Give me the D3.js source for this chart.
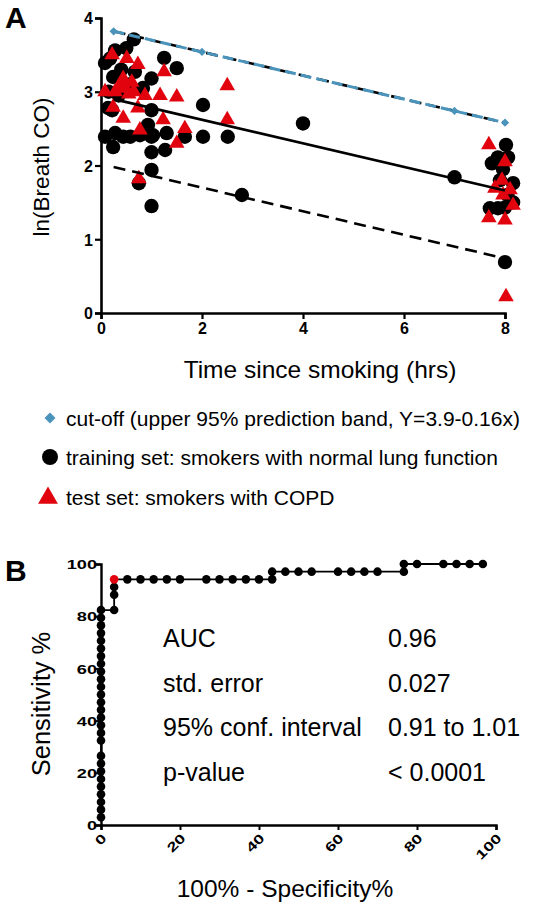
<!DOCTYPE html>
<html><head><meta charset="utf-8">
<script src="https://cdn.jsdelivr.net/npm/d3@7"></script>
<style>body{margin:0;background:#fff}svg{display:block}text{font-family:"Liberation Sans",Arial,sans-serif}</style>
</head><body>
<script>
// ---------- Panel A data ----------
const xTicksA = [0, 2, 4, 6, 8];
const yTicksA = [0, 1, 2, 3, 4];
const cutoffX = [0.25, 2, 7, 8];
const cutoffY = [3.82, 3.54, 2.74, 2.58];
const regX = [0.25, 8];
const regY = [2.90, 1.66];
const lowerY = [1.98, 0.74];
const upperY = [3.82, 2.58];
const trainX = [0.65,1.25,1.5,0.28,0.5,0.08,0.24,0.67,1.0,0.83,2.02,2.51,2.02,1.66,1.27,1.0,1.0,0.75,0.08,0.24,0.44,1.0,0.77,0.22,1.0,2.79,1.0,4.0,0.28,0.58,0.93,1.03,1.3,0.14,0.18,0.4,7.0,0.35,0.55,0.15,
  8.02,7.74,7.86,8.06,7.9,8.16,7.7,7.86,8.0,8.16,8.0,7.96,8.05];
const trainY = [3.71,3.46,3.32,3.56,3.59,3.39,3.2,3.27,3.18,3.05,2.82,2.39,2.39,2.39,2.21,2.18,1.94,1.76,2.39,2.25,2.39,2.39,2.41,2.75,2.75,1.6,1.45,2.57,2.44,2.39,2.55,2.41,2.44,2.78,3.45,3.3,1.84,2.95,3.1,3.0,
  2.28,2.03,2.11,2.11,1.8,1.76,1.42,1.42,1.43,1.5,0.69,1.95,1.6];
const testX = [0.22,0.51,0.73,1.25,0.44,0.08,0.48,0.61,1.17,1.5,0.28,0.87,2.5,2.5,1.66,1.23,0.77,0.44,0.24,0.73,1.5,0.75,0.35,0.55,0.65,0.4,
  7.68,8.0,7.94,7.8,8.1,7.96,8.16,7.68,8.0,8.02];
const testY = [3.5,3.45,3.37,3.27,3.18,3.0,3.05,3.13,2.95,2.93,3.0,2.95,3.08,2.62,2.5,2.62,2.48,2.64,2.79,2.78,2.3,1.82,3.05,2.97,3.0,3.1,
  2.28,2.05,1.8,1.69,1.67,1.6,1.46,1.29,1.26,0.22];
const legendLabels = ["cut-off (upper 95% prediction band, Y=3.9-0.16x)",
  "training set: smokers with normal lung function",
  "test set: smokers with COPD"];

// ---------- Panel B data ----------
const ticksB = [0, 20, 40, 60, 80, 100];
const rocX = [0,0,0,0,0,0,0,0,0,0,0,0,0,0,0,0,0,0,0,0,0,0,0,0,0,0,0,
  3.33,3.33,3.33,3.33,6.67,10,13.33,16.67,20,26.67,30,33.33,36.67,40,43.33,43.33,
  46.67,50,53.33,60,63.33,66.67,70,76.67,76.67,80,86.67,90,93.33,96.67];
const rocY = [2.94,5.88,8.82,11.76,14.71,17.65,20.59,23.53,26.47,32.35,35.29,38.24,41.18,44.12,47.06,50,52.94,55.88,58.82,61.76,64.71,67.65,70.59,73.53,76.47,79.41,82.35,
  82.35,88.24,91.18,94.12,94.12,94.12,94.12,94.12,94.12,94.12,94.12,94.12,94.12,94.12,94.12,97.06,
  97.06,97.06,97.06,97.06,97.06,97.06,97.06,97.06,100,100,100,100,100,100];
const cutPointIndex = 30;
const statLabels = ["AUC", "std. error", "95% conf. interval", "p-value"];
const statValues = ["0.96", "0.027", "0.91 to 1.01", "< 0.0001"];

const BLUE = "#4a93bb", RED = "#e1040f";

const svg = d3.select("body").append("svg").attr("width", 554).attr("height", 915);

// ======== Panel A ========
const xA = d3.scaleLinear().domain([0, 8]).range([101, 505]);
const yA = d3.scaleLinear().domain([0, 4]).range([313, 18]);

const gx = svg.append("g").attr("transform", "translate(0,313)")
  .call(d3.axisBottom(xA).tickValues(xTicksA).tickSize(6).tickPadding(4).tickFormat(d3.format("d")));
const gy = svg.append("g").attr("transform", "translate(101,0)")
  .call(d3.axisLeft(yA).tickValues(yTicksA).tickSize(6).tickPadding(2).tickFormat(d3.format("d")));
[gx, gy].forEach(g => {
  g.select(".domain").attr("stroke", "#000").attr("stroke-width", 2.6);
  g.selectAll(".tick line").attr("stroke", "#000").attr("stroke-width", 2.2);
  g.selectAll(".tick text").attr("font-size", 16).attr("font-weight", "bold").attr("fill", "#000");
});
gy.selectAll(".tick text").attr("dy", "0.36em");

// points
const pts = svg.append("g");
pts.selectAll("circle.train").data(trainX.map((x, i) => [x, trainY[i]])).enter()
  .append("circle").attr("cx", d => xA(d[0])).attr("cy", d => yA(d[1])).attr("r", 7.2).attr("fill", "#000");
const tri = d3.symbol().type(d3.symbolTriangle).size(105);
pts.selectAll("path.test").data(testX.map((x, i) => [x, testY[i]])).enter()
  .append("path").attr("d", tri).attr("transform", d => `translate(${xA(d[0])},${yA(d[1])})`).attr("fill", RED);

// lines
const lineA = d3.line().x(d => xA(d[0])).y(d => yA(d[1]));
svg.append("path").attr("d", lineA(regX.map((x, i) => [x, upperY[i]])))
  .attr("fill", "none").attr("stroke", "#000").attr("stroke-width", 2.6).attr("stroke-dasharray", "12,7");
svg.append("path").attr("d", lineA(regX.map((x, i) => [x, lowerY[i]])))
  .attr("fill", "none").attr("stroke", "#000").attr("stroke-width", 2.6).attr("stroke-dasharray", "12,7");
svg.append("path").attr("d", lineA(regX.map((x, i) => [x, regY[i]])))
  .attr("fill", "none").attr("stroke", "#000").attr("stroke-width", 2.6);
svg.append("path").attr("d", lineA(cutoffX.map((x, i) => [x, cutoffY[i]])))
  .attr("fill", "none").attr("stroke", BLUE).attr("stroke-width", 3).attr("stroke-dasharray", "11,5");
const dia = d3.symbol().type(d3.symbolSquare).size(34);
svg.selectAll("path.cut").data(cutoffX.map((x, i) => [x, cutoffY[i]])).enter()
  .append("path").attr("d", dia).attr("transform", d => `translate(${xA(d[0])},${yA(d[1])}) rotate(45)`).attr("fill", BLUE);

// titles
svg.append("text").attr("x", 5).attr("y", 28).attr("font-size", 30).attr("font-weight", "bold").text("A");
svg.append("text").attr("transform", "translate(49,167) rotate(-90)").attr("text-anchor", "middle")
  .attr("font-size", 22.5).text("ln(Breath CO)");
svg.append("text").attr("x", 320).attr("y", 378).attr("text-anchor", "middle").attr("font-size", 24.5)
  .text("Time since smoking (hrs)");

// legend
const lg = svg.append("g");
const legY = [418, 457, 497];
lg.append("path").attr("d", d3.symbol().type(d3.symbolSquare).size(60)).attr("transform", `translate(50,${legY[0]}) rotate(45)`).attr("fill", BLUE);
lg.append("circle").attr("cx", 50).attr("cy", legY[1]).attr("r", 8).attr("fill", "#000");
lg.append("path").attr("d", d3.symbol().type(d3.symbolTriangle).size(170)).attr("transform", `translate(48,${legY[2] + 1})`).attr("fill", RED);
lg.selectAll("text").data(legendLabels).enter().append("text")
  .attr("x", 66).attr("y", (d, i) => legY[i] + 7.5).attr("font-size", 21).text(d => d);

// ======== Panel B ========
const xB = d3.scaleLinear().domain([0, 100]).range([101, 496]);
const yB = d3.scaleLinear().domain([0, 100]).range([825, 564]);
const gxb = svg.append("g").attr("transform", "translate(0,825)")
  .call(d3.axisBottom(xB).tickValues(ticksB).tickSize(5).tickFormat(d3.format("d")));
const gyb = svg.append("g").attr("transform", "translate(101,0)")
  .call(d3.axisLeft(yB).tickValues(ticksB).tickSize(5).tickPadding(1).tickFormat(d3.format("d")));
[gxb, gyb].forEach(g => {
  g.select(".domain").attr("stroke", "#000").attr("stroke-width", 2.4);
  g.selectAll(".tick line").attr("stroke", "#000").attr("stroke-width", 2);
  g.selectAll(".tick text").attr("font-size", 13).attr("font-weight", "bold").attr("fill", "#000");
});
gyb.selectAll(".tick text").attr("x", 0).attr("dy", "0.36em").attr("text-anchor", "end")
  .attr("transform", "translate(-4,0) scale(1.4,1)");
gxb.selectAll(".tick text").attr("text-anchor", "end").attr("y", 0).attr("dy", 0)
  .attr("transform", "translate(6,14) rotate(-45) scale(1.4,1)");

const rocPts = rocX.map((x, i) => [x, rocY[i]]);
const lineB = d3.line().x(d => xB(d[0])).y(d => yB(d[1]));
svg.append("path").attr("d", lineB(rocPts)).attr("fill", "none").attr("stroke", "#000").attr("stroke-width", 1.8);
svg.selectAll("circle.roc").data(rocPts).enter().append("circle")
  .attr("cx", d => xB(d[0])).attr("cy", d => yB(d[1])).attr("r", 4.3)
  .attr("fill", (d, i) => i === cutPointIndex ? RED : "#000");

svg.append("text").attr("x", 5).attr("y", 581).attr("font-size", 30).attr("font-weight", "bold").text("B");
svg.append("text").attr("transform", "translate(50,704) rotate(-90)").attr("text-anchor", "middle")
  .attr("font-size", 25.5).text("Sensitivity %");
svg.append("text").attr("x", 285).attr("y", 897).attr("text-anchor", "middle").attr("font-size", 24.5)
  .text("100% - Specificity%");

const st = svg.append("g");
st.selectAll("text.l").data(statLabels).enter().append("text")
  .attr("x", 163).attr("y", (d, i) => 647 + i * 44.7).attr("font-size", 25).text(d => d);
st.selectAll("text.v").data(statValues).enter().append("text")
  .attr("x", 388).attr("y", (d, i) => 647 + i * 44.7).attr("font-size", 25).text(d => d);
</script>
</body></html>
